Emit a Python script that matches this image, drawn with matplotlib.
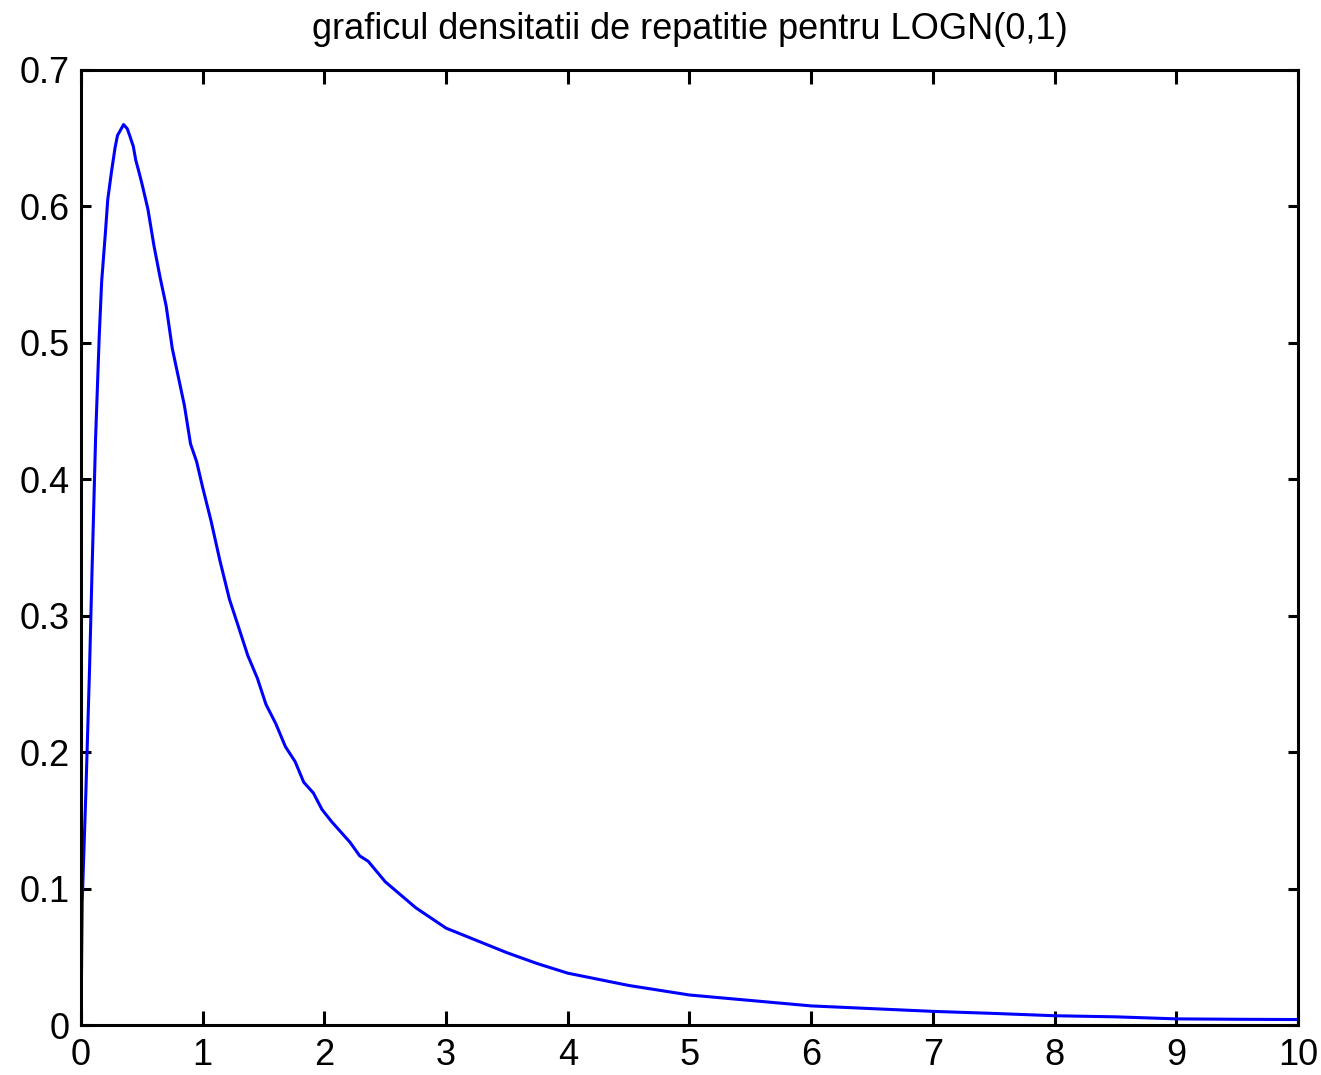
import numpy as np
import matplotlib
matplotlib.use('Agg')
import matplotlib.pyplot as plt

# valori
x = [0, 0.01, 0.04, 0.07, 0.09, 0.12, 0.15, 0.17, 0.2, 0.22, 0.25, 0.28, 0.3,
     0.35, 0.38, 0.4, 0.43, 0.45, 0.48, 0.5, 0.55, 0.6, 0.65, 0.7, 0.75, 0.8,
     0.85, 0.9, 0.95, 1.0, 1.07, 1.14, 1.22, 1.29, 1.37, 1.45, 1.52, 1.6, 1.68,
     1.76, 1.83, 1.91, 1.98, 2.06, 2.14, 2.21, 2.29, 2.36, 2.5, 2.75, 3.0, 3.25,
     3.5, 3.75, 4.0, 4.5, 5.0, 5.5, 6.0, 6.5, 7.0, 7.5, 8.0, 8.5, 9.0, 9.5, 10.0]
y = [0.0, 0.09, 0.17, 0.26, 0.33, 0.43, 0.505, 0.545, 0.58, 0.605, 0.625, 0.643, 0.652,
     0.66, 0.657, 0.652, 0.644, 0.634, 0.624, 0.617, 0.598, 0.571, 0.548, 0.527, 0.496, 0.475,
     0.454, 0.426, 0.413, 0.394, 0.369, 0.341, 0.312, 0.293, 0.271, 0.254, 0.235, 0.221, 0.204,
     0.193, 0.178, 0.17, 0.158, 0.149, 0.141, 0.134, 0.124, 0.12, 0.105, 0.086, 0.071, 0.062,
     0.053, 0.045, 0.038, 0.029, 0.022, 0.018, 0.014, 0.012, 0.010, 0.0085, 0.0068, 0.006, 0.0045, 0.0042, 0.004]

xticks = list(range(0, 11))
yticks = [0, 0.1, 0.2, 0.3, 0.4, 0.5, 0.6, 0.7]
ytick_labels = ['0', '0.1', '0.2', '0.3', '0.4', '0.5', '0.6', '0.7']

plt.rcParams['font.family'] = ['Liberation Sans', 'DejaVu Sans']

fig = plt.figure(figsize=(13.21, 10.75), dpi=100)
ax = fig.add_axes([0.0613, 0.0465, 0.9213, 0.8884])

ax.plot(x, y, color=(0, 0, 1), linewidth=2.2)

ax.set_xlim(0, 10)
ax.set_ylim(0, 0.7)
ax.set_xticks(xticks)
ax.set_yticks(yticks)
ax.set_yticklabels(ytick_labels)

for s in ax.spines.values():
    s.set_linewidth(2.2)
    s.set_color('black')

ax.tick_params(direction='in', top=True, right=True, width=2.2, labelsize=26)
ax.tick_params(axis='x', length=10, pad=9)
ax.tick_params(axis='y', length=7.5, pad=8)

ax.set_title('graficul densitatii de repatitie pentru LOGN(0,1)', fontsize=26, pad=22)

fig.savefig('out.png', dpi=100)
